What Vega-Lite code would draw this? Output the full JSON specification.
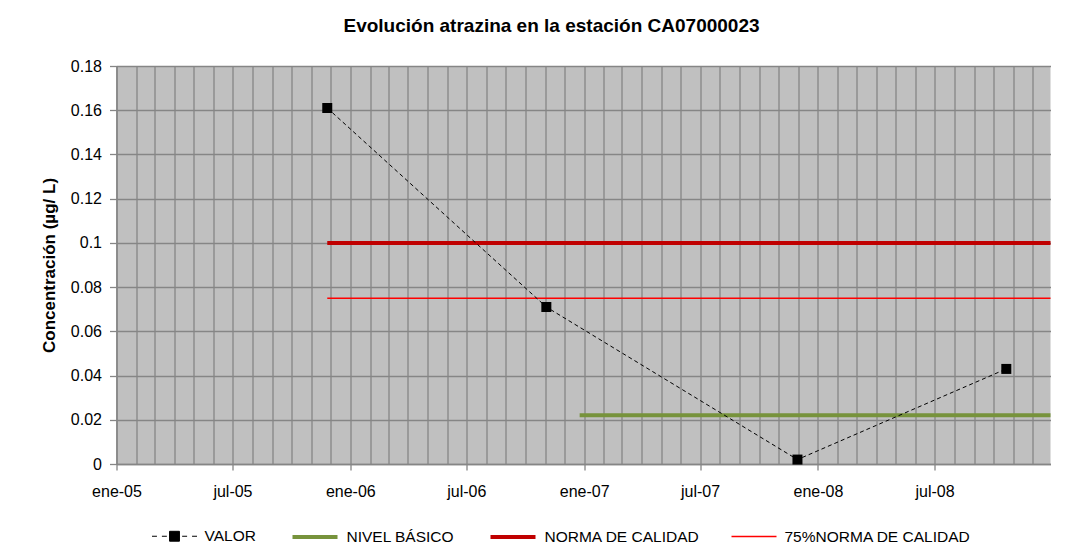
{
  "$schema": "https://vega.github.io/schema/vega-lite/v6.json",
  "width": 934,
  "height": 398,
  "autosize": {"type": "none"},
  "padding": {"left": 116.5, "top": 66, "right": 33.5, "bottom": 92},
  "background": "white",
  "config": {
    "font": "Liberation Sans",
    "view": {"fill": "#C0C0C0", "stroke": null}
  },
  "title": {
    "text": "Evolución atrazina en la estación CA07000023",
    "font": "Liberation Sans",
    "fontSize": 19,
    "fontWeight": "bold",
    "color": "black",
    "anchor": "middle",
    "frame": "group",
    "dx": -32,
    "offset": 22
  },
  "datasets": {
    "valor": [
      {"fecha": "2005-11-26", "valor": 0.161, "serie": "VALOR"},
      {"fecha": "2006-11-03", "valor": 0.071, "serie": "VALOR"},
      {"fecha": "2007-11-30", "valor": 0.002, "serie": "VALOR"},
      {"fecha": "2008-10-21", "valor": 0.043, "serie": "VALOR"}
    ],
    "refs": [
      {"fecha": "2006-12-25", "valor": 0.022, "serie": "NIVEL BÁSICO"},
      {"fecha": "2008-12-29", "valor": 0.022, "serie": "NIVEL BÁSICO"},
      {"fecha": "2005-11-26", "valor": 0.1, "serie": "NORMA DE CALIDAD"},
      {"fecha": "2008-12-29", "valor": 0.1, "serie": "NORMA DE CALIDAD"},
      {"fecha": "2005-11-26", "valor": 0.075, "serie": "75%NORMA DE CALIDAD"},
      {"fecha": "2008-12-29", "valor": 0.075, "serie": "75%NORMA DE CALIDAD"}
    ]
  },
  "encoding": {
    "x": {
      "field": "fecha",
      "type": "temporal",
      "scale": {
        "type": "utc",
        "domain": [
          {"year": 2005, "month": 1, "date": 1, "utc": true},
          {"year": 2008, "month": 12, "date": 29, "utc": true}
        ]
      },
      "axis": {
        "title": null,
        "tickCount": {"interval": "month", "step": 1},
        "labelExpr": "utcmonth(datum.value) == 0 ? 'ene-' + utcFormat(datum.value, '%y') : (utcmonth(datum.value) == 6 ? 'jul-' + utcFormat(datum.value, '%y') : '')",
        "labelFlush": false,
        "labelOverlap": false,
        "labelFontSize": 16,
        "labelColor": "black",
        "labelFont": "Liberation Sans",
        "labelPadding": 13,
        "tickSize": 6,
        "tickColor": "#868686",
        "tickWidth": 1.3,
        "tickOpacity": {"condition": {"test": "utcmonth(datum.value) % 6 === 0", "value": 1}, "value": 0},
        "domainColor": "#868686",
        "domainWidth": 1.5,
        "grid": true,
        "gridColor": "#868686",
        "gridWidth": 1.3,
        "gridOpacity": 1
      }
    },
    "y": {
      "field": "valor",
      "type": "quantitative",
      "scale": {"domain": [0, 0.18], "nice": false, "zero": true},
      "axis": {
        "title": "Concentración (µg/ L)",
        "titleFont": "Liberation Sans",
        "titleFontSize": 17,
        "titleFontWeight": "bold",
        "titleColor": "black",
        "titlePadding": 12,
        "values": [0, 0.02, 0.04, 0.06, 0.08, 0.1, 0.12, 0.14, 0.16, 0.18],
        "format": ".2~f",
        "labelFontSize": 16,
        "labelColor": "black",
        "labelFont": "Liberation Sans",
        "labelPadding": 8,
        "tickSize": 7,
        "tickColor": "#868686",
        "tickWidth": 1.3,
        "domainColor": "#868686",
        "domainWidth": 1.5,
        "grid": true,
        "gridColor": "#868686",
        "gridWidth": 1.3,
        "gridOpacity": 1
      }
    }
  },
  "layer": [
    {
      "data": {"name": "refs"},
      "mark": {"type": "line", "strokeCap": "butt"},
      "encoding": {
        "color": {
          "field": "serie",
          "type": "nominal",
          "scale": {
            "domain": ["VALOR", "NIVEL BÁSICO", "NORMA DE CALIDAD", "75%NORMA DE CALIDAD"],
            "range": ["black", "#77933C", "#C00000", "#FF0000"]
          },
          "legend": {
            "title": null,
            "orient": "none",
            "legendX": 35,
            "legendY": 446.5,
            "direction": "horizontal",
            "symbolType": "stroke",
            "symbolSize": 2025,
            "labelOffset": 7,
            "labelLimit": 0,
            "columnPadding": 28,
            "labelFontSize": 15.5,
            "labelFont": "Liberation Sans",
            "labelColor": "black",
            "padding": 0,
            "encode": {
              "symbols": {
                "update": {
                  "shape": {"signal": "datum.value === 'VALOR' ? 'M-1,0H-0.78M-0.56,0H-0.34M0.34,0H0.56M0.78,0H1M-0.22,-0.22H0.22V0.22H-0.22Z' : 'stroke'"},
                  "fill": {"signal": "datum.value === 'VALOR' ? 'black' : 'transparent'"},
                  "strokeWidth": {"signal": "datum.value === 'VALOR' ? 1 : (datum.value === '75%NORMA DE CALIDAD' ? 1.5 : 4)"},
                  "strokeDash": {"value": []},
                  "opacity": {"value": 1}
                }
              }
            }
          }
        },
        "strokeWidth": {
          "field": "serie",
          "type": "nominal",
          "scale": {
            "type": "ordinal",
            "domain": ["VALOR", "NIVEL BÁSICO", "NORMA DE CALIDAD", "75%NORMA DE CALIDAD"],
            "range": [1, 4, 4, 1.5]
          },
          "legend": null
        }
      }
    },
    {
      "data": {"name": "valor"},
      "mark": {"type": "line", "strokeDash": [4, 3]},
      "encoding": {
        "color": {"field": "serie", "type": "nominal"},
        "strokeWidth": {
          "field": "serie",
          "type": "nominal",
          "scale": {
            "type": "ordinal",
            "domain": ["VALOR", "NIVEL BÁSICO", "NORMA DE CALIDAD", "75%NORMA DE CALIDAD"],
            "range": [1, 4, 4, 1.5]
          },
          "legend": null
        }
      }
    },
    {
      "data": {"name": "valor"},
      "mark": {"type": "square", "size": 100, "filled": true, "color": "black", "opacity": 1},
      "encoding": {}
    }
  ]
}
